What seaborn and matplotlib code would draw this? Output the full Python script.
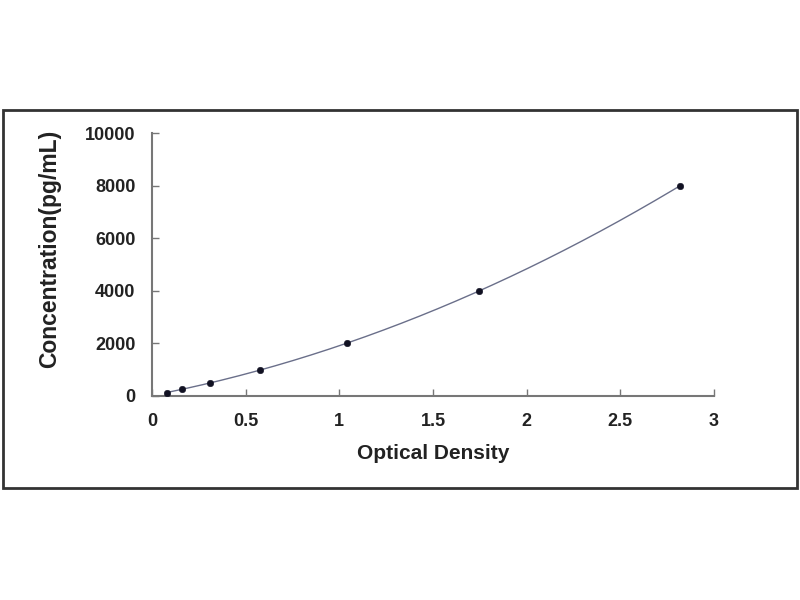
import numpy as np
import pandas as pd
import matplotlib
matplotlib.use("Agg")
import matplotlib.pyplot as plt
import seaborn as sns
from matplotlib.patches import Rectangle

# Standard curve values
od_values = [0.078, 0.159, 0.31, 0.577, 1.04, 1.748, 2.82]
conc_values = [125, 250, 500, 1000, 2000, 4000, 8000]

x_ticks = [0, 0.5, 1, 1.5, 2, 2.5, 3]
x_tick_labels = ["0", "0.5", "1", "1.5", "2", "2.5", "3"]
y_ticks = [0, 2000, 4000, 6000, 8000, 10000]

sns.set_style("white")
plt.rcParams['font.family'] = ['Liberation Sans', 'DejaVu Sans']

df = pd.DataFrame({"od": od_values, "conc": conc_values})

# smooth fitted curve through the standards
coef = np.polyfit(df["od"], df["conc"], 2)
xs = np.linspace(df["od"].min(), df["od"].max(), 200)
fit = pd.DataFrame({"od": xs, "conc": np.polyval(coef, xs)})

fig = plt.figure(figsize=(8, 6), dpi=100)
# outer frame
fig.patches.append(Rectangle((0.004, 1 - 488 / 600), 0.992, (488 - 110) / 600,
                             transform=fig.transFigure, fill=False,
                             edgecolor="#333333", linewidth=2))
ax = fig.add_axes([152 / 800, 1 - 396 / 600, (714 - 152) / 800, (396 - 133) / 600])

sns.lineplot(data=fit, x="od", y="conc", ax=ax, color="#6a6f8a", linewidth=1.0)
sns.scatterplot(data=df, x="od", y="conc", ax=ax, color="#111122", s=22,
                edgecolor="#111122", zorder=3)

ax.set_xlim(0, 3)
ax.set_ylim(0, 10000)
ax.set_xticks(x_ticks)
ax.set_xticklabels(x_tick_labels)
ax.set_yticks(y_ticks)
for side in ["top", "right"]:
    ax.spines[side].set_visible(False)
for side in ["left", "bottom"]:
    ax.spines[side].set_color("#777777")
    ax.spines[side].set_linewidth(1.5)
ax.tick_params(direction="in", length=5, width=1, color="#777777",
               labelsize=13, left=True, bottom=True)
ax.tick_params(axis="x", pad=12)
ax.tick_params(axis="y", pad=12)
for lab in ax.get_xticklabels() + ax.get_yticklabels():
    lab.set_fontweight("bold")
    lab.set_color("#222222")

ax.set_xlabel("Optical Density", fontsize=15, fontweight="bold", color="#222222", labelpad=10)
ax.set_ylabel("Concentration(pg/mL)", fontsize=16.5, fontweight="bold", color="#222222")
ax.yaxis.set_label_coords(-0.162, 0.56)

fig.savefig("out.png", dpi=100)
